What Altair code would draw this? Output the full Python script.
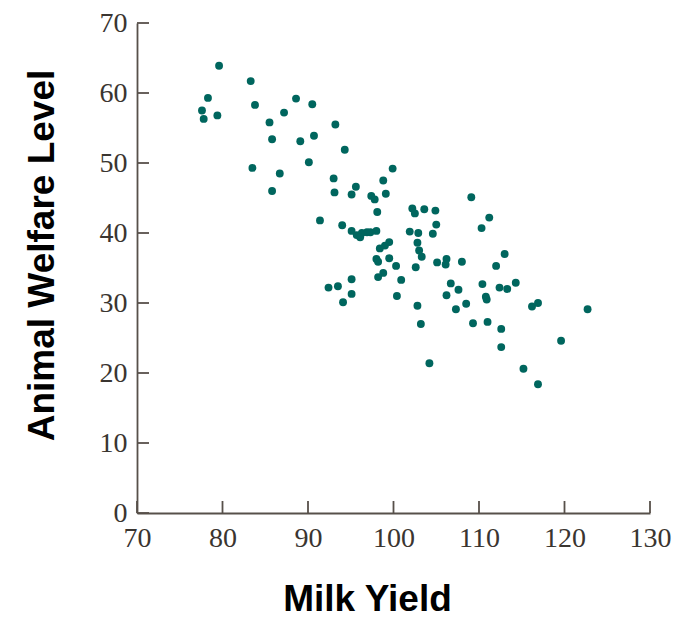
import altair as alt
import pandas as pd

milk_yield = [79.6, 78.3, 77.6, 77.8, 79.4, 83.3, 83.8, 85.5, 87.2, 88.6,
              90.5, 85.8, 89.1, 90.7, 93.2, 94.3, 83.5, 86.7, 90.1, 85.8,
              99.9, 93.0, 93.1, 95.6, 95.1, 98.8, 97.4, 97.8, 99.1, 98.1,
              91.4, 94.0, 95.1, 95.7, 96.3, 96.1, 96.9, 97.3, 98.0, 102.2,
              102.5, 103.6, 104.9, 109.1, 111.2, 110.3, 105.0, 104.6, 101.9, 102.9,
              99.5, 99.0, 98.4, 102.8, 103.0, 103.3, 98.0, 98.2, 99.5, 100.3,
              102.6, 105.1, 106.2, 106.1, 108.0, 113.0, 112.0, 95.1, 92.4, 93.5,
              95.1, 94.1, 98.8, 98.2, 100.9, 100.4, 106.7, 107.6, 106.2, 108.5,
              107.3, 110.4, 110.8, 110.9, 112.4, 113.3, 114.3, 116.2, 116.9, 122.7,
              102.8, 103.2, 109.3, 111.0, 112.6, 112.6, 119.6, 104.2, 115.2, 116.9]
welfare = [63.9, 59.3, 57.5, 56.3, 56.8, 61.7, 58.3, 55.8, 57.2, 59.2,
           58.4, 53.4, 53.1, 53.9, 55.5, 51.9, 49.3, 48.5, 50.1, 46.0,
           49.2, 47.8, 45.8, 46.6, 45.5, 47.5, 45.3, 44.8, 45.6, 43.0,
           41.8, 41.1, 40.3, 39.7, 40.0, 39.4, 40.1, 40.1, 40.3, 43.5,
           42.8, 43.4, 43.2, 45.1, 42.2, 40.7, 41.2, 39.9, 40.2, 40.0,
           38.7, 38.2, 37.8, 38.6, 37.5, 36.6, 36.3, 35.9, 36.4, 35.3,
           35.1, 35.8, 36.3, 35.5, 35.9, 37.0, 35.3, 33.4, 32.2, 32.4,
           31.3, 30.1, 34.3, 33.7, 33.3, 31.0, 32.8, 31.9, 31.1, 29.9,
           29.1, 32.7, 30.9, 30.5, 32.2, 32.0, 32.9, 29.5, 30.0, 29.1,
           29.6, 27.0, 27.1, 27.3, 26.3, 23.7, 24.6, 21.4, 20.6, 18.4]
x_ticks = [70, 80, 90, 100, 110, 120, 130]
y_ticks = [0, 10, 20, 30, 40, 50, 60, 70]

W, H = 513, 490
AXIS_COLOR = "#57504a"
LABEL_COLOR = "#3a3530"

df = pd.DataFrame({"milk": milk_yield, "welfare": welfare})
xs = alt.Scale(domain=[70, 130], nice=False, zero=False)
ys = alt.Scale(domain=[0, 70], nice=False, zero=False)

x_axis = alt.Axis(title="Milk Yield", values=x_ticks, ticks=False, grid=False,
                  domainColor=AXIS_COLOR, domainWidth=1.8,
                  labelFont="Liberation Serif", labelFontSize=28,
                  labelColor=LABEL_COLOR, labelPadding=11,
                  labelFlush=False, labelOverlap=False,
                  titleFont="Liberation Sans", titleFontSize=37,
                  titleFontWeight="bold", titleColor="#000000",
                  titleX=230, titleY=97, titleBaseline="alphabetic")
y_axis = alt.Axis(title="Animal Welfare Level", values=y_ticks, ticks=False, grid=False,
                  domainColor=AXIS_COLOR, domainWidth=1.8,
                  labelFont="Liberation Serif", labelFontSize=28,
                  labelColor=LABEL_COLOR, labelPadding=10,
                  labelFlush=False, labelOverlap=False,
                  titleFont="Liberation Sans", titleFontSize=37,
                  titleFontWeight="bold", titleColor="#000000",
                  titleX=-84, titleY=232, titleBaseline="alphabetic",
                  titleAngle=270)

points = alt.Chart(df).mark_circle(size=62, opacity=1, color="#00665e").encode(
    x=alt.X("milk:Q", scale=xs, axis=x_axis),
    y=alt.Y("welfare:Q", scale=ys, axis=y_axis),
)

xt = alt.Chart(pd.DataFrame({"t": x_ticks})).mark_rule(color=AXIS_COLOR, strokeWidth=1.8).encode(
    x=alt.X("t:Q", scale=xs, axis=x_axis),
    y=alt.value(H), y2=alt.value(H - 12),
)
yt = alt.Chart(pd.DataFrame({"t": y_ticks})).mark_rule(color=AXIS_COLOR, strokeWidth=1.8).encode(
    y=alt.Y("t:Q", scale=ys, axis=y_axis),
    x=alt.value(0), x2=alt.value(12),
)

chart = alt.layer(points, xt, yt).properties(
    width=W, height=H,
    autosize=alt.AutoSizeParams(type="none"),
    padding={"left": 137, "top": 23, "right": 27, "bottom": 107},
).configure(background="white").configure_view(stroke=None)

chart.save("out.html", embed_options={"renderer": "svg", "actions": False})
